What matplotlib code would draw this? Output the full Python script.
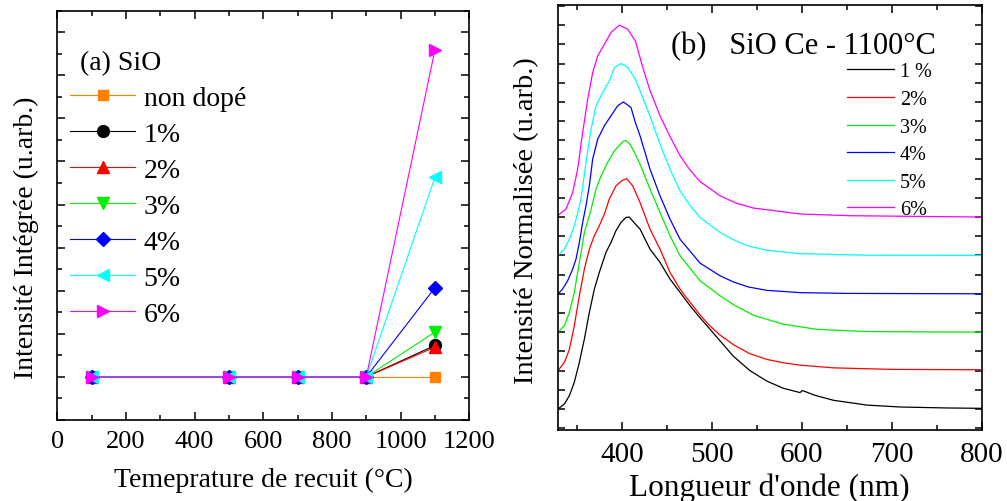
import numpy as np
import matplotlib
matplotlib.use("Agg")
import matplotlib.pyplot as plt
from matplotlib.ticker import MultipleLocator, NullFormatter

plt.rcParams['font.family'] = ['Liberation Serif', 'DejaVu Serif']

# --- (a) integrated intensity vs annealing temperature ---
temps = [100, 500, 700, 900, 1100]
labels_a = ['non dopé', '1%', '2%', '3%', '4%', '5%', '6%']
int_nondope = [0, 0, 0, 0, 0.0]
int_1 = [0, 0, 0, 0, 0.73]
int_2 = [0, 0, 0, 0, 0.69]
int_3 = [0, 0, 0, 0, 1.04]
int_4 = [0, 0, 0, 0, 2.07]
int_5 = [0, 0, 0, 0, 4.63]
int_6 = [0, 0, 0, 0, 7.59]

# --- (b) normalised PL spectra at 1100 C (each curve peak = 1) ---
wl_1 = [329, 336, 341.5, 347, 352.6, 358.2, 363.7, 369.3, 374.8, 378.5, 382.2, 387.8,
        393.3, 398.9, 404.4, 408, 414.8, 420, 431.1, 442.2, 453.3, 464.4, 475.6, 486.7,
        497, 508.9, 523.7, 542, 561, 579, 597.8, 600.3, 615, 635, 672, 709, 760, 800]
pl_1 = [0.0, 0.026, 0.069, 0.139, 0.243, 0.365, 0.503, 0.625, 0.712, 0.764, 0.816, 0.868,
        0.929, 0.972, 0.998, 1.0, 0.964, 0.9375, 0.833, 0.764, 0.677, 0.608, 0.538, 0.475,
        0.42, 0.355, 0.275, 0.2, 0.145, 0.108, 0.085, 0.096, 0.07, 0.045, 0.02, 0.01, 0.005, 0.003]

wl_2 = [329, 336, 341.5, 347, 352.6, 358.2, 363.7, 369.3, 374.8, 380.4, 385.9, 393.3,
        400, 405, 411.9, 420, 431.1, 442.2, 453.3, 464.4, 475.6, 486.7, 497, 508.9,
        523.7, 542, 561, 580, 598, 635, 700, 800]
pl_2 = [0.0, 0.043, 0.11, 0.234, 0.39, 0.529, 0.633, 0.703, 0.755, 0.815, 0.894, 0.963,
        0.99, 1.0, 0.963, 0.876, 0.7375, 0.633, 0.512, 0.425, 0.356, 0.29, 0.236, 0.185,
        0.135, 0.088, 0.058, 0.04, 0.028, 0.014, 0.006, 0.004]

wl_3 = [329, 336, 341.5, 347, 352.6, 358.2, 364.5, 371.1, 376.7, 384.1, 391.5, 400.7,
        404, 409, 414.8, 420, 431.1, 442.2, 453.3, 464.4, 486.7, 508.9, 523.7, 546,
        579, 616, 672, 800]
pl_3 = [0.0, 0.034, 0.103, 0.208, 0.364, 0.52, 0.62, 0.746, 0.815, 0.885, 0.945, 0.992,
        1.0, 0.979, 0.928, 0.876, 0.746, 0.624, 0.503, 0.399, 0.268, 0.19, 0.144, 0.088,
        0.042, 0.015, 0.003, 0.0]

wl_4 = [329, 334, 339.6, 345.2, 348.9, 352.6, 356.3, 360, 363.7, 367.4, 373, 380.4,
        387.8, 395.2, 401.5, 410, 414.8, 420, 431.1, 442.2, 453.3, 464.4, 486.7, 508.9,
        523.7, 540, 560.7, 598, 650, 800]
pl_4 = [0.0, 0.025, 0.068, 0.129, 0.181, 0.268, 0.372, 0.46, 0.563, 0.702, 0.806, 0.876,
        0.928, 0.98, 1.0, 0.971, 0.893, 0.824, 0.65, 0.511, 0.39, 0.285, 0.16, 0.094,
        0.062, 0.036, 0.018, 0.006, 0.002, 0.0]

wl_5 = [329, 335.9, 341.5, 347, 350.7, 354.4, 360, 365.6, 371.1, 378.5, 385.9, 391.5,
        398.9, 406.3, 414.8, 423.7, 431.1, 442.2, 453.3, 464.4, 475.6, 486.7, 508.9, 523.7,
        540, 560.7, 598, 672, 800]
pl_5 = [0.0, 0.033, 0.085, 0.155, 0.22, 0.294, 0.485, 0.658, 0.78, 0.849, 0.91, 0.98,
        1.0, 0.98, 0.919, 0.815, 0.727, 0.58, 0.45, 0.337, 0.26, 0.198, 0.12, 0.082,
        0.05, 0.027, 0.009, 0.001, 0.0]

wl_6 = [328.5, 337.8, 345.2, 350.7, 356.3, 361.9, 367.4, 373, 380.4, 387.8, 397, 406.3,
        414.8, 423.7, 431.1, 442.2, 453.3, 464.4, 475.6, 486.7, 508.9, 527, 546, 598, 653, 800]
pl_6 = [0.007, 0.042, 0.128, 0.25, 0.441, 0.615, 0.753, 0.84, 0.901, 0.962, 1.0, 0.979,
        0.918, 0.77, 0.66, 0.528, 0.42, 0.32, 0.245, 0.185, 0.111, 0.072, 0.047, 0.016, 0.007, 0.0]

labels_b = ['1 %', '2%', '3%', '4%', '5%', '6%']
offset_step = 0.2

colors = ['#000000', '#FF0000', '#00EE00', '#0000FF', '#00FFFF', '#FF00FF']
orange = '#FF8000'

fig = plt.figure(figsize=(10.07, 5.02), dpi=100)

# ---------- panel (a) ----------
ax1 = fig.add_axes([0.0569, 0.1614, 0.4091, 0.8153])
series_a = [int_nondope, int_1, int_2, int_3, int_4, int_5, int_6]
markers = ['s', 'o', '^', 'v', 'D', '<', '>']
cols_a = [orange] + colors
for vals, lab, mk, c in zip(series_a, labels_a, markers, cols_a):
    ms = 7.5 if mk in ('D', 's') else 8.5
    ax1.plot(temps, vals, color=c, lw=0.8, marker=mk, ms=ms, mec=c, mfc=c, label=lab)

ax1.set_xlim(0, 1200)
ax1.set_ylim(-1, 8.5)
ax1.xaxis.set_major_locator(MultipleLocator(200))
ax1.xaxis.set_minor_locator(MultipleLocator(100))
ax1.yaxis.set_major_locator(MultipleLocator(1))
ax1.yaxis.set_minor_locator(MultipleLocator(0.5))
ax1.yaxis.set_major_formatter(NullFormatter())
ax1.set_xlabel('Temeprature de recuit (°C)', fontsize=20, labelpad=11)
ax1.set_ylabel('Intensité Intégrée (u.arb.)', fontsize=20)
ax1.yaxis.set_label_coords(-0.045, 0.447)

ax1.legend(loc='upper left', bbox_to_anchor=(0.031, 0.818), frameon=False,
           fontsize=20, handlelength=2.35, handletextpad=0.3, labelspacing=0.38,
           borderpad=0, borderaxespad=0)
ax1.text(0.055, 0.872, '(a) SiO', transform=ax1.transAxes, fontsize=20,
         ha='left', va='center')

# ---------- panel (b) ----------
ax2 = fig.add_axes([0.5538, 0.1414, 0.4213, 0.8466])
spectra = [(wl_1, pl_1), (wl_2, pl_2), (wl_3, pl_3), (wl_4, pl_4), (wl_5, pl_5), (wl_6, pl_6)]
for i, ((wl, pl), lab, c) in enumerate(zip(spectra, labels_b, colors)):
    ax2.plot(wl, np.array(pl) + i * offset_step, color=c, lw=0.9, label=lab)

ax2.set_xlim(328.5, 800)
ax2.set_ylim(-0.11, 2.105)
ax2.xaxis.set_major_locator(MultipleLocator(100))
ax2.xaxis.set_minor_locator(MultipleLocator(50))
ax2.yaxis.set_major_locator(MultipleLocator(0.1))
ax2.yaxis.set_major_formatter(NullFormatter())
ax2.set_xlabel("Longueur d'onde (nm)", fontsize=22.5, labelpad=4)
ax2.set_ylabel('Intensité Normalisée (u.arb.)', fontsize=20.5)
ax2.yaxis.set_label_coords(-0.044, 0.494)

ax2.legend(loc='upper left', bbox_to_anchor=(0.681, 0.865), frameon=False,
           fontsize=14.5, handlelength=2.35, handletextpad=0.3, labelspacing=0.42,
           borderpad=0, borderaxespad=0)
ax2.text(0.268, 0.904, '(b)   SiO Ce - 1100°C', transform=ax2.transAxes, fontsize=22,
         ha='left', va='center')

for ax in (ax1, ax2):
    for sp in ax.spines.values():
        sp.set_linewidth(1.2)
    ax.tick_params(which='both', direction='in', top=True, right=True, width=1.1)
    ax.tick_params(which='major', length=5.5)
    ax.tick_params(which='minor', length=3.5)
ax1.tick_params(labelsize=19, pad=7)
ax2.tick_params(labelsize=21, pad=8)
ax2.tick_params(axis='y', which='major', length=5)

fig.savefig('out.png', dpi=100)
